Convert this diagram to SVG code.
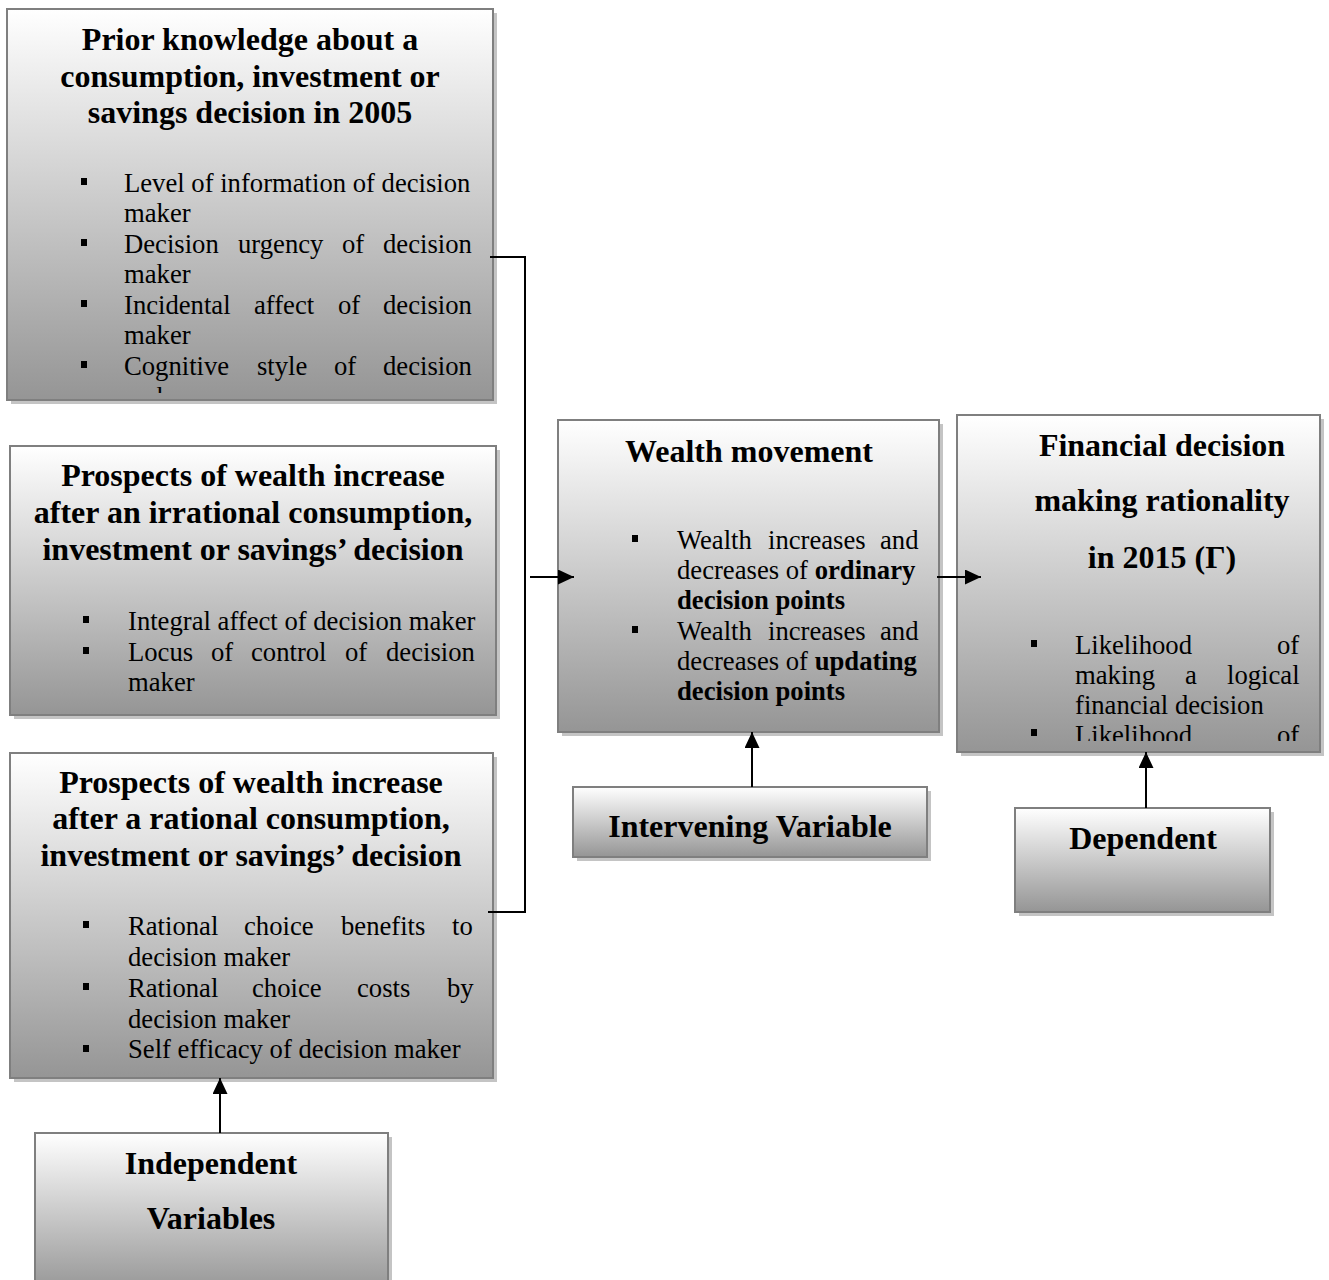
<svg xmlns="http://www.w3.org/2000/svg" width="1329" height="1280" viewBox="0 0 1329 1280">
<style>
.shadow{fill:#c4c4c4}
.box{fill:url(#g);stroke:#7f7f7f;stroke-width:2}
.t{font-family:"Liberation Serif","Times New Roman",serif;font-weight:bold;font-size:32px;fill:#000;text-anchor:middle}
.b{font-family:"Liberation Serif","Times New Roman",serif;font-size:26.67px;fill:#000}
.bb{font-weight:bold}
.bul{fill:#000}
.conn{stroke:#000;stroke-width:2;fill:none}
</style>
<defs>
<linearGradient id="g" x1="0" y1="0" x2="0" y2="1">
<stop offset="0" stop-color="#ffffff"/>
<stop offset="1" stop-color="#959595"/>
</linearGradient>
<marker id="ah" viewBox="0 0 10 10" refX="10" refY="5" markerWidth="16" markerHeight="15" orient="auto" markerUnits="userSpaceOnUse" preserveAspectRatio="none">
<path d="M0,0 L10,5 L0,10 z" fill="#000"/>
</marker>
<clipPath id="c1"><rect x="7" y="9" width="486" height="384"/></clipPath>
<clipPath id="c5"><rect x="957" y="415" width="363" height="326"/></clipPath>
</defs>

<g id="node-prior">
<rect class="shadow" x="11" y="13" width="486" height="391"/>
<rect class="box" x="7" y="9" width="486" height="391"/>
<text class="t" x="250" y="50">Prior knowledge about a</text>
<text class="t" x="250" y="87">consumption, investment or</text>
<text class="t" x="250" y="123">savings decision in 2005</text>
<g clip-path="url(#c1)">
<rect class="bul" x="81" y="178" width="6" height="7"/>
<rect class="bul" x="81" y="239" width="6" height="7"/>
<rect class="bul" x="81" y="300" width="6" height="7"/>
<rect class="bul" x="81" y="361" width="6" height="7"/>
<text class="b" x="124" y="192">Level of information of decision</text>
<text class="b" x="124" y="222">maker</text>
<text class="b" y="253"><tspan x="124">Decision</tspan><tspan x="238">urgency</tspan><tspan x="342">of</tspan><tspan x="383">decision</tspan></text>
<text class="b" x="124" y="283">maker</text>
<text class="b" y="314"><tspan x="124">Incidental</tspan><tspan x="254">affect</tspan><tspan x="338">of</tspan><tspan x="383">decision</tspan></text>
<text class="b" x="124" y="344">maker</text>
<text class="b" y="375"><tspan x="124">Cognitive</tspan><tspan x="257">style</tspan><tspan x="334">of</tspan><tspan x="383">decision</tspan></text>
<text class="b" x="124" y="406">maker</text>
</g>
</g>

<g id="node-irrational">
<rect class="shadow" x="14" y="450" width="486" height="269"/>
<rect class="box" x="10" y="446" width="486" height="269"/>
<text class="t" x="253" y="486">Prospects of wealth increase</text>
<text class="t" x="253" y="523">after an irrational consumption,</text>
<text class="t" x="253" y="560">investment or savings’ decision</text>
<rect class="bul" x="83" y="616" width="6" height="7"/>
<rect class="bul" x="83" y="647" width="6" height="7"/>
<text class="b" x="128" y="630">Integral affect of decision maker</text>
<text class="b" y="661"><tspan x="128">Locus</tspan><tspan x="211">of</tspan><tspan x="251">control</tspan><tspan x="345">of</tspan><tspan x="386">decision</tspan></text>
<text class="b" x="128" y="691">maker</text>
</g>

<g id="node-rational">
<rect class="shadow" x="14" y="757" width="483" height="325"/>
<rect class="box" x="10" y="753" width="483" height="325"/>
<text class="t" x="251" y="793">Prospects of wealth increase</text>
<text class="t" x="251" y="829">after a rational consumption,</text>
<text class="t" x="251" y="866">investment or savings’ decision</text>
<rect class="bul" x="83" y="921" width="6" height="7"/>
<rect class="bul" x="83" y="983" width="6" height="7"/>
<rect class="bul" x="83" y="1045" width="6" height="7"/>
<text class="b" y="935"><tspan x="128">Rational</tspan><tspan x="244">choice</tspan><tspan x="341">benefits</tspan><tspan x="452">to</tspan></text>
<text class="b" x="128" y="966">decision maker</text>
<text class="b" y="997"><tspan x="128">Rational</tspan><tspan x="252">choice</tspan><tspan x="357">costs</tspan><tspan x="447">by</tspan></text>
<text class="b" x="128" y="1028">decision maker</text>
<text class="b" x="128" y="1058">Self efficacy of decision maker</text>
</g>

<g id="node-independent">
<rect class="shadow" x="39" y="1137" width="353" height="160"/>
<rect class="box" x="35" y="1133" width="353" height="160"/>
<text class="t" x="211" y="1174">Independent</text>
<text class="t" x="211" y="1229">Variables</text>
</g>

<g id="node-wealth">
<rect class="shadow" x="562" y="424" width="381" height="312"/>
<rect class="box" x="558" y="420" width="381" height="312"/>
<text class="t" x="749" y="462">Wealth movement</text>
<rect class="bul" x="632" y="535" width="6" height="7"/>
<rect class="bul" x="632" y="626" width="6" height="7"/>
<text class="b" y="549"><tspan x="677">Wealth</tspan><tspan x="768">increases</tspan><tspan x="880">and</tspan></text>
<text class="b" x="677" y="579">decreases of <tspan class="bb">ordinary</tspan></text>
<text class="b bb" x="677" y="609">decision points</text>
<text class="b" y="640"><tspan x="677">Wealth</tspan><tspan x="768">increases</tspan><tspan x="880">and</tspan></text>
<text class="b" x="677" y="670">decreases of <tspan class="bb">updating</tspan></text>
<text class="b bb" x="677" y="700">decision points</text>
</g>

<g id="node-intervening">
<rect class="shadow" x="577" y="791" width="354" height="70"/>
<rect class="box" x="573" y="787" width="354" height="70"/>
<text class="t" x="750" y="837">Intervening Variable</text>
</g>

<g id="node-financial">
<rect class="shadow" x="961" y="419" width="363" height="337"/>
<rect class="box" x="957" y="415" width="363" height="337"/>
<text class="t" x="1162" y="456">Financial decision</text>
<text class="t" x="1162" y="511">making rationality</text>
<text class="t" x="1162" y="568">in 2015 (Γ)</text>
<g clip-path="url(#c5)">
<rect class="bul" x="1031" y="640" width="6" height="7"/>
<rect class="bul" x="1031" y="729" width="6" height="7"/>
<text class="b" y="654"><tspan x="1075">Likelihood</tspan><tspan x="1277">of</tspan></text>
<text class="b" y="684"><tspan x="1075">making</tspan><tspan x="1185">a</tspan><tspan x="1227">logical</tspan></text>
<text class="b" x="1075" y="714">financial decision</text>
<text class="b" y="744"><tspan x="1075">Likelihood</tspan><tspan x="1277">of</tspan></text>
</g>
</g>

<g id="node-dependent">
<rect class="shadow" x="1019" y="812" width="255" height="104"/>
<rect class="box" x="1015" y="808" width="255" height="104"/>
<text class="t" x="1143" y="849">Dependent</text>
</g>

<g id="connectors">
<path class="conn" d="M490,257 H525 V912 H488"/>
<line class="conn" x1="530" y1="577" x2="574" y2="577" marker-end="url(#ah)"/>
<line class="conn" x1="937" y1="577" x2="981" y2="577" marker-end="url(#ah)"/>
<line class="conn" x1="752" y1="787" x2="752" y2="732" marker-end="url(#ah)"/>
<line class="conn" x1="1146" y1="808" x2="1146" y2="752" marker-end="url(#ah)"/>
<line class="conn" x1="220" y1="1133" x2="220" y2="1078" marker-end="url(#ah)"/>
</g>
</svg>
